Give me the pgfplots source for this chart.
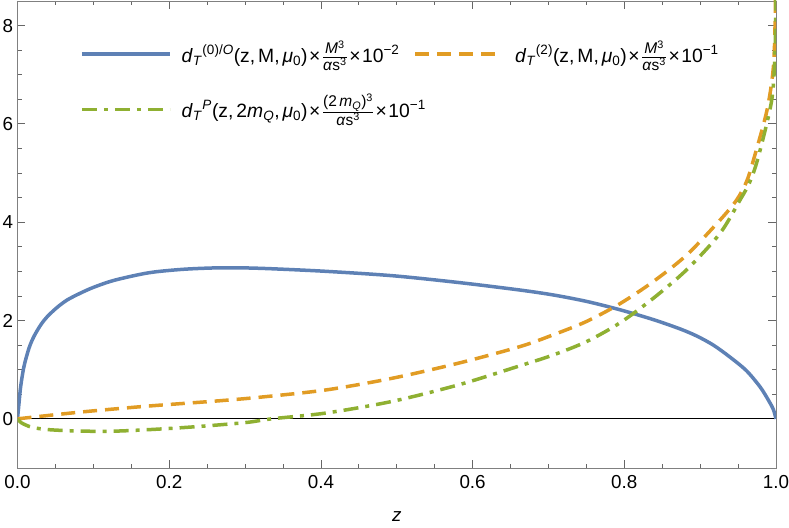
\documentclass[border=0pt]{standalone}
\usepackage{pgfplots}
\pgfplotsset{compat=1.18}
\usepackage{fontspec}
\setmainfont{Liberation Sans}
\definecolor{mblue}{rgb}{0.368417,0.506779,0.709798}
\definecolor{morange}{rgb}{0.880722,0.611041,0.142051}
\definecolor{mgreen}{rgb}{0.560181,0.691569,0.194885}
\newcommand{\fr}[2]{\smash{$\frac{\mbox{\fontsize{15.5}{17}\selectfont #1}}{\mbox{\fontsize{15.5}{17}\selectfont #2}}$}}
\newcommand{\strt}{\rule[-9.5pt]{0pt}{19pt}}
\newcommand{\cm}{,\kern3pt}
\newcommand{\tm}{\kern1.5pt×\kern1.5pt}
\begin{document}
\begin{tikzpicture}
\begin{axis}[
  scale only axis, width=758.5pt, height=467pt,
  xmin=0, xmax=1, ymin=-1, ymax=8.5,
  xtick={0,0.2,0.4,0.6,0.8,1}, ytick={0,2,4,6,8},
  minor x tick num=3, minor y tick num=3,
  tick align=inside, major tick length=8pt, minor tick length=4.5pt,
  axis line style={black!50, line width=0.8pt},
  every tick/.style={black!60, line width=0.8pt},
  /pgf/number format/assume math mode=true,
  xticklabel style={/pgf/number format/fixed, /pgf/number format/fixed zerofill, /pgf/number format/precision=1, yshift=-4pt},
  yticklabel style={xshift=-1pt},
  tick label style={font=\fontsize{18.8}{20}\selectfont},
  xlabel={\textit{z}},
  x label style={at={(rel axis cs:0.5,0)}, anchor=center, yshift=-49pt, font=\fontsize{18.8}{20}\selectfont},
  legend columns=2,
  legend cell align=left,
  legend image code/.code={\draw[#1] (0pt,0pt) -- (88pt,0pt);},
  legend style={draw=none, fill=none, at={(rel axis cs:0,1)}, anchor=north west,
    xshift=62.5pt, yshift=-43.5pt, inner sep=0pt, column sep=10pt, row sep=36.8pt,
    nodes={inner sep=0pt}, font=\fontsize{19.3}{22}\selectfont},
]
\addplot[black, line width=0.8pt, forget plot] coordinates {(0,0) (1,0)};
\addplot[mblue, line width=3.5pt, smooth] coordinates {
(0,0) (0.002,0.32) (0.0042,0.66) (0.0086,1.07) (0.0152,1.44) (0.0218,1.68)
(0.0306,1.91) (0.0393,2.08) (0.0525,2.27) (0.0657,2.42) (0.0833,2.56) (0.101,2.68)
(0.128,2.82) (0.1725,2.97) (0.2165,3.04) (0.26,3.07) (0.30,3.07) (0.34,3.05)
(0.4076,3.00) (0.4955,2.91) (0.5834,2.77) (0.6625,2.62) (0.7064,2.52) (0.75,2.39)
(0.794,2.22) (0.838,2.02) (0.8734,1.83) (0.8955,1.685) (0.9174,1.50) (0.939,1.26)
(0.961,0.98) (0.979,0.65) (0.990,0.38) (0.9965,0.19) (1.0,0)};
\addlegendentry{\makebox[222pt][l]{\strt\textit{d}\textsubscript{\textit{T}}\textsuperscript{(0)/\textit{O}}(z\cm M\cm\textit{μ}\textsubscript{0})\tm\fr{\textit{M}\textsuperscript{3}}{\textit{α}s\textsuperscript{3}}\tm 10\textsuperscript{−2}}}
\addplot[morange, line width=3.5pt, dash pattern=on 14pt off 8pt, smooth] coordinates {
(0,0) (0.0846,0.14) (0.1725,0.26) (0.26,0.36) (0.3197,0.44) (0.4076,0.59)
(0.4955,0.83) (0.5834,1.14) (0.6625,1.47) (0.7064,1.71) (0.75,1.98) (0.794,2.34)
(0.838,2.79) (0.882,3.33) (0.926,4.04) (0.948,4.45) (0.961,4.82) (0.970,5.25)
(0.988,6.27) (0.9965,7.15) (0.999,8.2) (0.9998,9.5)};
\addlegendentry{\strt\textit{d}\textsubscript{\textit{T}}\textsuperscript{(2)}(z\cm M\cm\textit{μ}\textsubscript{0})\tm\fr{\textit{M}\textsuperscript{3}}{\textit{α}s\textsuperscript{3}}\tm 10\textsuperscript{−1}}
\addplot[mgreen, line width=3.5pt, dash pattern=on 15pt off 7pt on 4pt off 7pt, smooth] coordinates {
(0,0) (0.005,-0.08) (0.0187,-0.17) (0.041,-0.22) (0.0846,-0.25) (0.1285,-0.25)
(0.1725,-0.22) (0.2165,-0.18) (0.26,-0.13) (0.304,-0.07) (0.335,0.0) (0.4076,0.12)
(0.4955,0.36) (0.5834,0.70) (0.6625,1.08) (0.7064,1.30) (0.75,1.57) (0.794,1.95)
(0.838,2.45) (0.882,3.03) (0.926,3.77) (0.9525,4.45) (0.9655,4.82) (0.9767,5.33)
(0.9943,6.48) (0.9987,7.49) (0.9999,8.6) (1.0,9.5)};
\addlegendentry{\makebox[222pt][l]{\strt\textit{d}\textsubscript{\textit{T}}\textsuperscript{\textit{P}}(z\cm 2\textit{m}\textsubscript{\textit{Q}}\cm\textit{μ}\textsubscript{0})\tm\fr{(2\,\textit{m}\textsubscript{\textit{Q}})\textsuperscript{3}}{\textit{α}s\textsuperscript{3}}\tm 10\textsuperscript{−1}}}
\end{axis}
\pgfresetboundingbox
\useasboundingbox (-17.5pt,-59pt) rectangle (771.5pt,468pt);
\end{tikzpicture}
\end{document}
